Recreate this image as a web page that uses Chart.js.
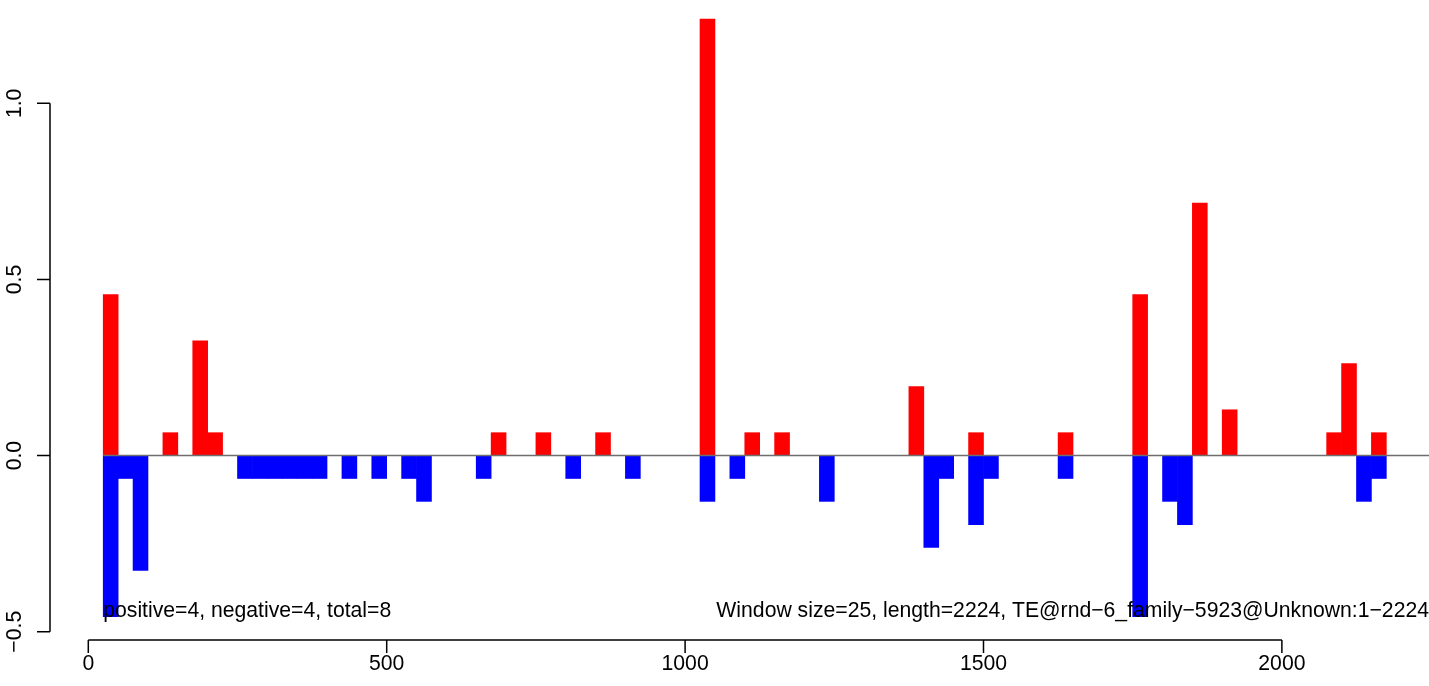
<!DOCTYPE html>
<html>
<head>
<meta charset="utf-8">
<script src="https://cdn.jsdelivr.net/npm/chart.js@4/dist/chart.umd.min.js"></script>
<style>
  html, body { margin: 0; padding: 0; background: #fff; }
  canvas { display: block; }
</style>
</head>
<body>
<canvas id="windowChart" width="1429" height="686"></canvas>
<script>
// window data (start position of each 25bp window)
const windowSize = 25;
const posStarts = [25, 125, 175, 200, 675, 750, 850, 1025, 1100, 1150, 1375, 1475, 1625, 1750, 1850, 1900, 2075, 2100, 2150];
const posValues = [0.457, 0.065, 0.326, 0.065, 0.065, 0.065, 0.065, 1.239, 0.065, 0.065, 0.196, 0.065, 0.065, 0.457, 0.717, 0.130, 0.065, 0.261, 0.065];
const negStarts = [25, 50, 75, 250, 275, 300, 325, 350, 375, 425, 475, 525, 550, 650, 800, 900, 1025, 1075, 1225, 1400, 1425, 1475, 1500, 1625, 1750, 1800, 1825, 2125, 2150];
const negValues = [-0.457, -0.065, -0.326, -0.065, -0.065, -0.065, -0.065, -0.065, -0.065, -0.065, -0.065, -0.065, -0.130, -0.065, -0.065, -0.065, -0.130, -0.065, -0.130, -0.261, -0.065, -0.196, -0.065, -0.065, -0.457, -0.130, -0.196, -0.130, -0.065];

const xTicks = [0, 500, 1000, 1500, 2000];
const xTickLabels = ['0', '500', '1000', '1500', '2000'];
const yTicks = [-0.5, 0, 0.5, 1.0];
const yTickLabels = ['\u22120.5', '0.0', '0.5', '1.0'];

const leftNote = 'positive=4, negative=4, total=8';
const rightNote = 'Window size=25, length=2224, TE@rnd\u22126_family\u22125923@Unknown:1\u22122224';

const FONT = '21.2px "Liberation Sans", Arial, Helvetica, sans-serif';

function toPoints(starts, values) {
    return starts.map((s, i) => ({ x: s + windowSize / 2, y: values[i] }));
}

// R style axes and notes
const rAxes = {
    id: 'rAxes',
    afterDraw(chart) {
        const ctx = chart.ctx;
        const xs = chart.scales.x;
        const ys = chart.scales.y;
        ctx.save();
        ctx.strokeStyle = '#000';
        ctx.fillStyle = '#000';
        ctx.lineWidth = 1.5;
        ctx.font = FONT;

        // y axis
        const ax = 50;
        ctx.beginPath();
        ctx.moveTo(ax, ys.getPixelForValue(yTicks[0]));
        ctx.lineTo(ax, ys.getPixelForValue(yTicks[yTicks.length - 1]));
        yTicks.forEach(v => {
            const py = ys.getPixelForValue(v);
            ctx.moveTo(ax, py);
            ctx.lineTo(ax - 13, py);
        });
        ctx.stroke();
        ctx.textAlign = 'center';
        ctx.textBaseline = 'alphabetic';
        yTicks.forEach((v, i) => {
            const py = ys.getPixelForValue(v);
            ctx.save();
            ctx.translate(20.5, py);
            ctx.rotate(-Math.PI / 2);
            ctx.fillText(yTickLabels[i], 0, 0);
            ctx.restore();
        });

        // x axis
        const ay = 640;
        ctx.beginPath();
        ctx.moveTo(xs.getPixelForValue(xTicks[0]), ay);
        ctx.lineTo(xs.getPixelForValue(xTicks[xTicks.length - 1]), ay);
        xTicks.forEach(v => {
            const px = xs.getPixelForValue(v);
            ctx.moveTo(px, ay);
            ctx.lineTo(px, ay + 13);
        });
        ctx.stroke();
        xTicks.forEach((v, i) => {
            ctx.fillText(xTickLabels[i], xs.getPixelForValue(v), 670);
        });

        // notes
        ctx.textAlign = 'left';
        ctx.fillText(leftNote, xs.getPixelForValue(windowSize), 616.5);
        ctx.textAlign = 'right';
        ctx.fillText(rightNote, 1429, 616.5);
        ctx.restore();
    }
};

document.addEventListener('DOMContentLoaded', function() {
    const ctx = document.getElementById('windowChart').getContext('2d');
    new Chart(ctx, {
        type: 'bar',
        data: {
            datasets: [{
                type: 'line',
                label: 'zero',
                data: [{ x: windowSize, y: 0 }, { x: 2400, y: 0 }],
                borderColor: '#6e6e6e',
                borderWidth: 1.5,
                pointRadius: 0,
                order: 0
            }, {
                label: 'positive',
                data: toPoints(posStarts, posValues),
                backgroundColor: '#ff0000',
                borderWidth: 0,
                grouped: false,
                barPercentage: 1,
                categoryPercentage: 1,
                order: 1
            }, {
                label: 'negative',
                data: toPoints(negStarts, negValues),
                backgroundColor: '#0000ff',
                borderWidth: 0,
                grouped: false,
                barPercentage: 1,
                categoryPercentage: 1,
                order: 1
            }]
        },
        options: {
            responsive: false,
            animation: false,
            devicePixelRatio: 1,
            layout: {
                padding: { left: 50, right: 0, top: 0, bottom: 46 }
            },
            plugins: {
                legend: { display: false },
                tooltip: { enabled: false }
            },
            scales: {
                x: {
                    type: 'linear',
                    display: false,
                    offset: false,
                    min: -64.18,
                    max: 2246.5,
                    ticks: { stepSize: 500 }
                },
                y: {
                    type: 'linear',
                    display: false,
                    min: -0.5235,
                    max: 1.2933
                }
            }
        },
        plugins: [rAxes]
    });
});
</script>
</body>
</html>
